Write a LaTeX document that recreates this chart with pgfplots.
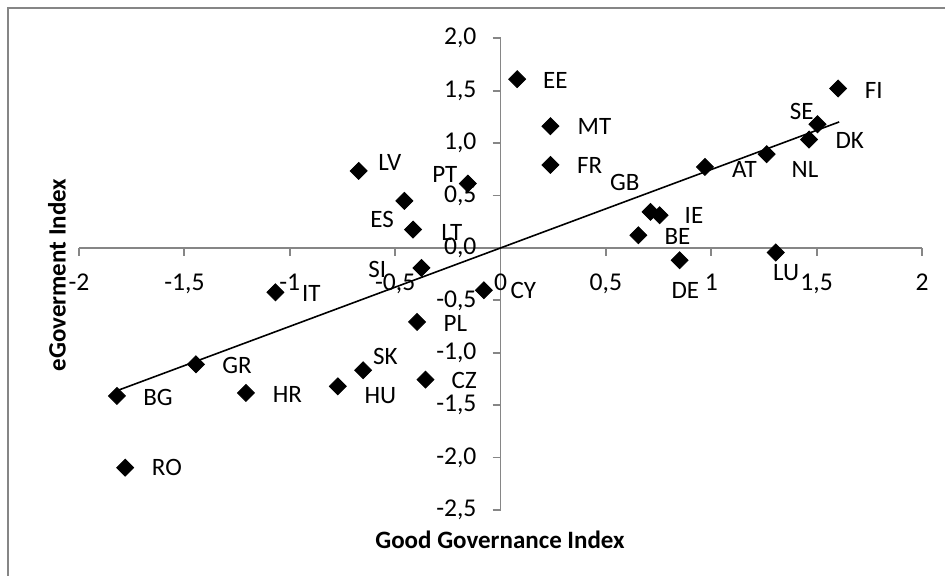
\documentclass[border=0pt]{standalone}
\usepackage{pgfplots}
\pgfplotsset{compat=1.18}
\usepackage{fontspec}
\setmainfont{Carlito}
\definecolor{axgray}{RGB}{134,134,134}
\begin{document}
\begin{tikzpicture}[x=0.5pt,y=0.5pt]
\useasboundingbox (0,0) rectangle (945,576);
\draw[axgray, line width=0.9pt] (8,0) -- (8,568) -- (945,568);
\begin{axis}[
  at={(39.5pt,33pt)}, anchor=south west,
  scale only axis, width=421.5pt, height=235.85pt,
  xmin=-2, xmax=2, ymin=-2.5, ymax=2,
  axis lines=middle,
  axis line style={-, draw=axgray, line width=0.9pt},
  tick style={draw=axgray, line width=0.9pt},
  tick align=outside, major tick length=4pt,
  xtick={-2,-1.5,-1,-0.5,0,0.5,1,1.5,2},
  ytick={-2.5,-2,-1.5,-1,-0.5,0,0.5,1,1.5,2},
  xticklabels={-2,{-1,5},-1,{-0,5},0,{0,5},1,{1,5},2},
  yticklabels={{-2,5},{-2,0},{-1,5},{-1,0},{-0,5},{0,0},{0,5},{1,0},{1,5},{2,0}},
  hide obscured x ticks=false, hide obscured y ticks=false,
  ticklabel style={font=\fontsize{12.8}{15}\selectfont},
  xticklabel style={anchor=north, yshift=-5.5pt},
  yticklabel style={anchor=east, xshift=-4.5pt},
  clip=false,
]
\addplot[only marks, mark=square*, mark size=3pt, mark options={rotate=45, fill=black, draw=black}]
table[x=x, y=y] {
x y c
0.079 1.610 EE
0.237 1.161 MT
0.237 0.792 FR
1.602 1.521 FI
1.504 1.180 SE
1.464 1.034 DK
1.263 0.894 NL
0.970 0.773 AT
0.712 0.344 GB
0.755 0.312 IE
0.654 0.121 BE
0.850 -0.117 DE
1.306 -0.044 LU
-0.079 -0.404 CY
-0.673 0.735 LV
-0.456 0.449 ES
-0.155 0.614 PT
-0.415 0.175 LT
-0.375 -0.191 SI
-1.068 -0.423 IT
-0.396 -0.706 PL
-0.652 -1.167 SK
-0.356 -1.256 CZ
-0.772 -1.320 HU
-1.208 -1.383 HR
-1.445 -1.110 GR
-1.820 -1.412 BG
-1.781 -2.096 RO
};
\addplot[black, line width=0.8pt] coordinates {(-1.82,-1.362) (1.607,1.202)};
\begin{scope}[every node/.style={font=\fontsize{12.5}{15}\selectfont, inner sep=0pt}]
\node at (axis cs:0.260,1.600) {EE};
\node at (axis cs:0.446,1.155) {MT};
\node at (axis cs:0.423,0.783) {FR};
\node at (axis cs:0.590,0.620) {GB};
\node at (axis cs:1.771,1.505) {FI};
\node at (axis cs:1.429,1.298) {SE};
\node at (axis cs:1.657,1.028) {DK};
\node at (axis cs:1.445,0.748) {NL};
\node at (axis cs:1.157,0.748) {AT};
\node at (axis cs:0.918,0.312) {IE};
\node at (axis cs:0.840,0.105) {BE};
\node at (axis cs:0.877,-0.404) {DE};
\node at (axis cs:1.355,-0.239) {LU};
\node at (axis cs:0.108,-0.404) {CY};
\node at (axis cs:-0.525,0.811) {LV};
\node at (axis cs:-0.264,0.703) {PT};
\node at (axis cs:-0.562,0.274) {ES};
\node at (axis cs:-0.231,0.147) {LT};
\node at (axis cs:-0.585,-0.206) {SI};
\node at (axis cs:-0.898,-0.435) {IT};
\node at (axis cs:-0.214,-0.716) {PL};
\node at (axis cs:-0.546,-1.033) {SK};
\node at (axis cs:-0.172,-1.262) {CZ};
\node at (axis cs:-0.570,-1.405) {HU};
\node at (axis cs:-1.011,-1.396) {HR};
\node at (axis cs:-1.250,-1.119) {GR};
\node at (axis cs:-1.625,-1.422) {BG};
\node at (axis cs:-1.583,-2.095) {RO};
\end{scope}
\end{axis}
\node[font=\bfseries\fontsize{12.5}{15}\selectfont] at (500,36) {Good Governance Index};
\node[font=\bfseries\fontsize{12.5}{15}\selectfont, rotate=90] at (57,301) {eGoverment Index};
\end{tikzpicture}
\end{document}
